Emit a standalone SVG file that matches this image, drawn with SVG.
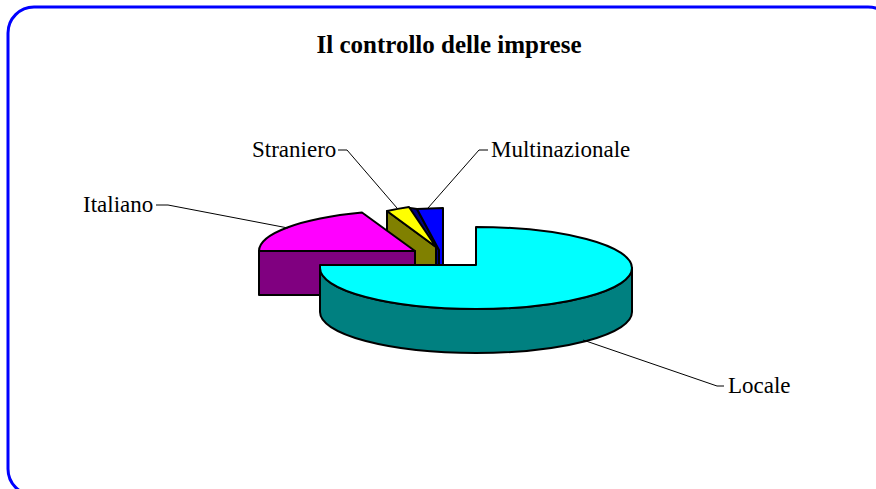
<svg xmlns="http://www.w3.org/2000/svg" width="876" height="489" viewBox="0 0 876 489">
<style>
  .lbl { font-family: "Liberation Serif", "Times New Roman", serif; font-size: 23px; fill: #000; }
  .title { font-family: "Liberation Serif", "Times New Roman", serif; font-size: 25px; font-weight: bold; fill: #000; }
  .face { stroke: #000; stroke-width: 2; stroke-linejoin: round; }
  .lead { fill: none; stroke: #000; stroke-width: 1; }
</style>
<rect x="0" y="0" width="876" height="489" fill="#fff"/>
<rect id="frame" x="8" y="7" width="886" height="488" rx="26" ry="26" fill="none" stroke="#0000ff" stroke-width="3"/>
<text id="title" class="title" x="449" y="53" text-anchor="middle">Il controllo delle imprese</text>

<g id="slice-multinazionale">
  <path class="face" fill="#000080" d="M410,208 L417,209 L439,250 L439,268 L430,268 Z"/>
  <path class="face" fill="#0000ff" d="M417,209 L443,208 L443,268 L439,268 L439,250 Z"/>
</g>
<g id="slice-straniero">
  <path class="face" fill="#808000" d="M387,211 L436,247 L436,291 L387,255 Z"/>
  <path class="face" fill="#ffff00" d="M436,247 L387,211 A156,41 0 0 1 409,207 Z"/>
</g>
<g id="slice-italiano">
  <path class="face" fill="#800080" d="M259,251 L415,251 L415,295 L259,295 Z"/>
  <path class="face" fill="#ff00ff" d="M415,251 L259,251 A156,41 0 0 1 362,212.5 Z"/>
</g>
<g id="slice-locale">
  <path class="face" fill="#008080" d="M320,268 A156,41 0 0 0 632,268 L632,312 A156,41 0 0 1 320,312 Z"/>
  <path class="face" fill="#00ffff" d="M476,265 L476,227 A156,41 0 1 1 320,268 L320,265 Z"/>
</g>

<g id="connectors">
  <polyline class="lead" points="156,205 168,205 288,228"/>
  <polyline class="lead" points="338,150 347,150 397,208"/>
  <polyline class="lead" points="488,150 479,150 428,208"/>
  <polyline class="lead" points="583,340 717,386 724,386"/>
</g>

<g id="labels">
  <text id="label-italiano" class="lbl" x="83" y="212">Italiano</text>
  <text id="label-straniero" class="lbl" x="252" y="157">Straniero</text>
  <text id="label-multinazionale" class="lbl" x="491" y="157">Multinazionale</text>
  <text id="label-locale" class="lbl" x="728" y="393">Locale</text>
</g>
</svg>
